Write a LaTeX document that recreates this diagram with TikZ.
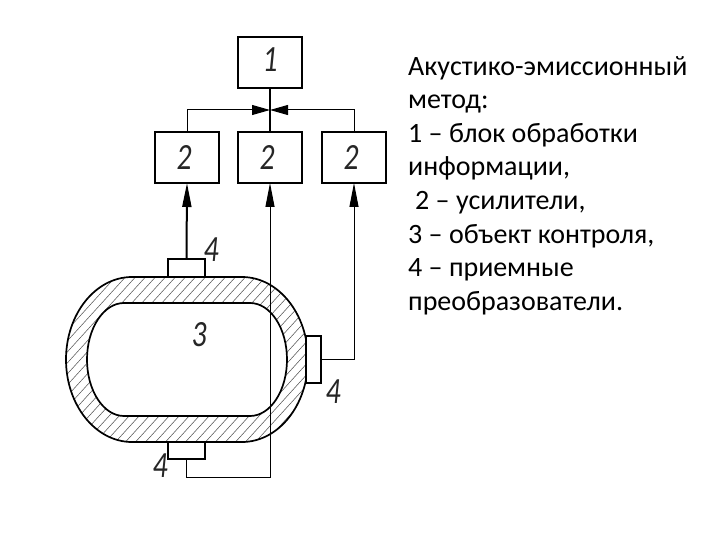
\documentclass[tikz,border=0pt]{standalone}
\usepackage{fontspec}
\setmainfont{Carlito}
\usetikzlibrary{arrows.meta}
\tikzset{
  blockbox/.style={draw=black,line width=1.6pt,fill=white,minimum width=64pt,minimum height=51pt,inner sep=0pt,outer sep=0pt},
  sensor/.style={draw=black,line width=1.1pt,fill=white,inner sep=0pt,outer sep=0pt},
  wire/.style={draw=black,line width=1pt},
  thickwire/.style={draw=black,line width=2pt},
  upar/.style={-{Triangle[length=24pt,width=9pt]}},
  sidear/.style={-{Triangle[length=18pt,width=10pt]}},
  numlabel/.style={font=\itshape\fontsize{37}{37}\selectfont,color=black!85,xscale=.8,inner sep=0pt},
}
\begin{document}
\begin{tikzpicture}[x=1pt,y=-1pt]
\useasboundingbox[fill=white] (0,0) rectangle (720,540);
% object wall
\def\outerpath{(132,277) -- (242,277) arc[start angle=-90,end angle=90,x radius=66,y radius=82.5] -- (132,442) arc[start angle=90,end angle=270,x radius=66,y radius=82.5] -- cycle}
\def\innerpath{(124,303) -- (250,303) arc[start angle=-90,end angle=90,x radius=37,y radius=56.5] -- (124,416) arc[start angle=90,end angle=270,x radius=37,y radius=56.5] -- cycle}
\begin{scope}
\clip \outerpath;
\foreach \k in {0,...,46}{
  \draw[line width=.5pt,black!70] ({-130+10*\k},470) -- ({70+10*\k},250);
}
\end{scope}
\draw[line width=1.7pt] \outerpath;
\draw[line width=1.7pt,fill=white] \innerpath;
% blocks
\node[blockbox] (b1) at (270,62.5) {};
\node[blockbox] (b2a) at (187,157.5) {};
\node[blockbox] (b2b) at (270,157.5) {};
\node[blockbox] (b2c) at (354,157.5) {};
\coordinate (hub) at (270,110);
% sensors
\node[sensor,minimum width=37pt,minimum height=18pt] (s1) at (186.5,268) {};
\node[sensor,minimum width=37pt,minimum height=17pt] (s2) at (186.5,450.5) {};
\node[sensor,minimum width=15pt,minimum height=47pt] (s3) at (313.5,359.5) {};
% text labels on blocks
\node[numlabel] (l1) at (270,60) {1};
\node[numlabel] (l2a) at (184,158) {2};
\node[numlabel] (l2b) at (267,158) {2};
\node[numlabel] (l2c) at (351,158) {2};
\node[numlabel] (l3) at (199,335) {3};
\node[numlabel] (l4a) at (211,250) {4};
\node[numlabel] (l4b) at (333,392) {4};
\node[numlabel] (l4c) at (160,466) {4};
% connectors
\draw[line width=1.4pt] (b1.south) -- (b2b.north);
\draw[wire,sidear] (b2a.north) |- (hub);
\draw[wire,sidear] (b2c.north) |- (hub);
\draw[thickwire,upar] (s1.north) -- (b2a.south);
\draw[wire,upar] (s2.south) -- ++(0,18) -| (b2b.south);
\draw[wire,upar] (s3.east) -| (b2c.south);
% caption
\node[anchor=north west,align=left,inner sep=0pt,font=\fontsize{28}{33.6}\selectfont] (cap) at (408,56) {Акустико-эмиссионный\\метод:\\1 – блок обработки\\информации,\\\hspace*{7pt}2 – усилители,\\3 – объект контроля,\\4 – приемные\\преобразователи.};
\end{tikzpicture}
\end{document}
